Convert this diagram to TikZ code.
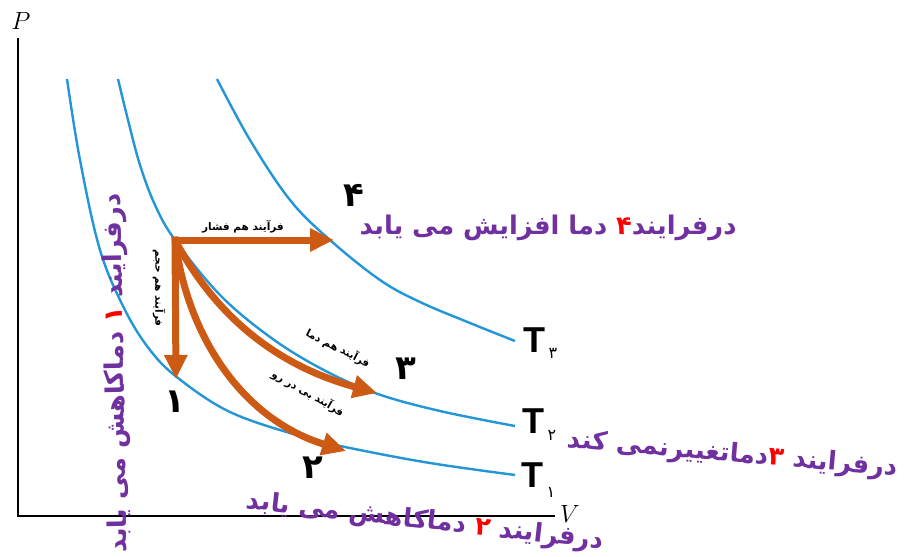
\documentclass[tikz,border=0pt]{standalone}
\usepackage{fontspec}
\usetikzlibrary{arrows.meta}
\TeXXeTstate=1
\newfontfamily\fa[Script=Arabic]{DejaVu Sans}
\newfontfamily\lat{Liberation Sans}
\definecolor{isoblue}{RGB}{35,150,215}
\definecolor{procorange}{RGB}{205,90,20}
\definecolor{notepurple}{RGB}{112,48,160}
\newcommand{\rtl}[1]{\beginR #1\endR}
\newcommand{\reddigit}[1]{{\color{red}#1}}
\tikzset{
  iso/.style={isoblue, line width=2.4pt},
  proc/.style={procorange, line width=7pt, -{Triangle[length=24pt,width=22pt]}},
  axisline/.style={black, line width=2.2pt},
  note/.style={text=notepurple, font=\fa\bfseries\fontsize{25.7}{28}\selectfont, inner sep=0pt},
  ptlabel/.style={font=\fa\bfseries\fontsize{34}{36}\selectfont, inner sep=0pt},
  smalllab/.style={font=\fa\bfseries\fontsize{10.5}{12}\selectfont, inner sep=0pt},
  tlab/.style={font=\lat\bfseries\fontsize{36}{38}\selectfont, inner sep=0pt},
  tsub/.style={font=\fa\fontsize{16}{18}\selectfont, inner sep=0pt},
  axlab/.style={font=\fontsize{26}{28}\selectfont, inner sep=0pt},
}
\begin{document}
\begin{tikzpicture}[x=1pt,y=-1pt]
\useasboundingbox (0,0) rectangle (906,557);
\fill[white] (0,0) rectangle (906,557);

% axes
\coordinate (o) at (18,516);
\coordinate (ptop) at (18,38);
\coordinate (vend) at (555,516);
\draw[axisline] (ptop) -- (o) -- (vend);
\node[axlab] (plab) at (21,21) {$P$};
\node[axlab] (vlab) at (570,514) {$V$};

% isotherms
\draw[iso] plot[smooth,tension=0.6] coordinates {(67,79) (80,160) (100,250) (125,310) (150,350) (178,378) (230,412) (300,436) (350,448) (430,463) (515,475)};
\draw[iso] plot[smooth,tension=0.6] coordinates {(118,79) (128,120) (140,165) (155,205) (175,240) (220,295) (270,337) (320,368) (375,393) (440,411) (515,426)};
\draw[iso] plot[smooth,tension=0.6] coordinates {(217,79) (250,140) (290,200) (330,240) (380,280) (420,302) (470,323) (515,341)};

% process points
\coordinate (s) at (175,240);
\coordinate (p1) at (176,379);
\coordinate (p2) at (346,451);
\coordinate (p3) at (377,393);
\coordinate (p4) at (334,240);

\draw[proc, line cap=rect] (s) -- (p4);
\draw[proc, line cap=rect] (s) -- (p1);
\draw[proc] (s) .. controls (215,315) and (275,365) .. (p3);
\draw[proc] (s) .. controls (188,340) and (245,420) .. (p2);

% small labels
\node[smalllab] (lbar) at (243,227) {\rtl{فرآیند هم فشار}};
\node[smalllab, rotate=-90] (lhajm) at (159,288) {\rtl{فرآیند هم حجم}};
\node[smalllab, rotate=-27] (ldama) at (338,348) {\rtl{فرآیند هم دما}};
\node[smalllab, rotate=-30] (ladia) at (308,393) {\rtl{فرآیند بی در رو}};

% point numbers
\node[ptlabel] (n4) at (354,195) {۴};
\node[ptlabel] (n3) at (406,369) {۳};
\node[ptlabel] (n2) at (313,468) {۲};
\node[ptlabel] (n1) at (175,402) {۱};

% T labels
\node[tlab] (t3) at (534,340) {T};
\node[tsub] (t3s) at (553,353) {۳};
\node[tlab] (t2) at (533,421) {T};
\node[tsub] (t2s) at (552,435) {۲};
\node[tlab] (t1) at (532,475) {T};
\node[tsub] (t1s) at (551,492) {۱};

% purple notes (segments in visual left-to-right order)
\node[note] (note4) at (548,228) {\rtl{دما افزایش می یابد} \reddigit{۴}\rtl{درفرایند}};
\node[note, rotate=-5] (note3) at (732,455) {\rtl{دماتغییرنمی کند}\reddigit{۳} \rtl{درفرایند}};
\node[note, rotate=-6.5] (note2) at (425,522) {\rtl{دماکاهش می یابد} \reddigit{۲} \rtl{درفرایند}};
\node[note, rotate=91] (note1) at (117,373) {\rtl{دماکاهش می یابد} \reddigit{۱} \rtl{درفرایند}};
\end{tikzpicture}
\end{document}
